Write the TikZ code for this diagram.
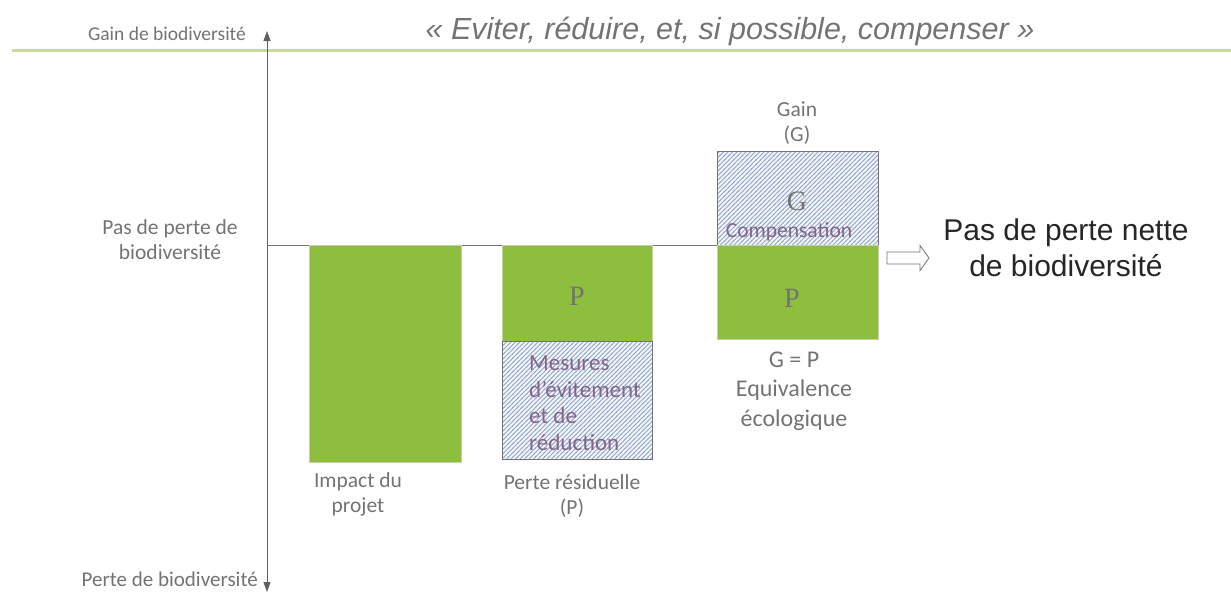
\documentclass[tikz,border=0pt]{standalone}
\usepackage{fontspec}
\setmainfont{Carlito}
\newfontfamily\arialfont{Liberation Sans}
\newfontfamily\timesfont{Liberation Serif}
\usepackage{tikz}
\usetikzlibrary{arrows.meta,patterns}

\definecolor{barGreen}{RGB}{141,190,61}
\definecolor{barEdge}{RGB}{200,205,170}
\definecolor{hatchBg}{RGB}{242,246,251}
\definecolor{hatchLine}{RGB}{150,168,198}
\definecolor{txtGray}{RGB}{115,115,115}
\definecolor{txtPurple}{RGB}{130,100,140}
\definecolor{axisGray}{RGB}{95,95,95}
\definecolor{topLine}{RGB}{200,218,160}

% diagonal hatch, a bit wider than north east lines
\pgfdeclarepatternformonly{hatchne}{\pgfpoint{-1pt}{-1pt}}{\pgfpoint{5.5pt}{5.5pt}}{\pgfpoint{4.5pt}{4.5pt}}
{\pgfsetlinewidth{0.9pt}\pgfpathmoveto{\pgfpoint{-0.5pt}{-0.5pt}}\pgfpathlineto{\pgfpoint{5pt}{5pt}}\pgfusepath{stroke}}

\begin{document}
\begin{tikzpicture}[x=1pt,y=-1pt,
  lab/.style={text=txtGray,align=center,inner sep=0pt,font=\fontsize{21.5}{25}\selectfont},
  greenbar/.style={fill=barGreen,draw=barEdge,line width=1pt},
  hatchbar/.style={preaction={fill=hatchBg},pattern=hatchne,pattern color=hatchLine,draw=txtGray,line width=0.8pt},
  letter/.style={text=txtGray,font=\timesfont\fontsize{28}{28}\selectfont,inner sep=0pt}]
 \useasboundingbox (0,0) rectangle (1231,592);

 % title and top line
 \draw[topLine, line width=3pt] (12,50) -- (1231,50);
 \node[text=txtGray,font=\arialfont\itshape\fontsize{30.5}{30}\selectfont] (title) at (730,31)
   {« Eviter, réduire, et, si possible, compenser »};

 % axis
 \coordinate (axtop) at (267,31);
 \coordinate (axbot) at (267,592);
 \coordinate (axzero) at (267,245);
 \draw[axisGray, line width=1pt, {Triangle[length=10pt,width=7pt]}-{Triangle[length=10pt,width=7pt]}]
   (axbot) -- (axtop);
 \node[lab,anchor=east,font=\fontsize{19.5}{19.5}\selectfont] (gain) at (246,34) {Gain de biodiversité};
 \node[lab,anchor=east,font=\fontsize{21}{21}\selectfont] (perte) at (258,579) {Perte de biodiversité};
 \node[lab] (zero) at (170,240) {Pas de perte de\\biodiversité};

 % baseline
 \coordinate (lineend) at (717,245);
 \draw[txtGray, line width=0.8pt] (axzero) -- (lineend);

 % bar 1
 \draw[greenbar] (309,245) rectangle (461,462);
 \node[lab] (impact) at (358,494) {Impact du\\projet};

 % bar 2
 \draw[greenbar] (502,245) rectangle (652,341);
 \draw[hatchbar] (502,341) rectangle (652,459);
 \node[letter] (p1) at (577,296) {P};
 \node[lab,text=txtPurple,align=left,anchor=north west,font=\fontsize{23}{26.5}\selectfont] (mesures) at (529,356)
   {Mesures\\d'évitement\\et de\\réduction};
 \node[lab] (residu) at (572,496) {Perte résiduelle\\(P)};

 % bar 3
 \draw[hatchbar] (717,151) rectangle (878,245);
 \draw[greenbar] (717,245) rectangle (878,339);
 \node[letter] (g) at (797,201) {G};
 \node[lab,text=txtPurple] (compens) at (789,232) {Compensation};
 \node[letter] (p2) at (792,298) {P};
 \node[lab] (gaing) at (797,123) {Gain\\(G)};
 \node[lab,font=\fontsize{24}{29.5}\selectfont] (equiv) at (794,391) {G = P\\Equivalence\\écologique};

 % result
 \node[text=black!85,align=center,font=\arialfont\fontsize{30}{36}\selectfont] (nette) at (1066,248)
   {Pas de perte nette\\de biodiversité};
 \coordinate (flow) at (887,246);
 \draw[txtGray, line width=0.8pt, line join=miter]
   ([yshift=-6]flow) -- ++(33,0) -- ++(0,-6.5) -- ++(9,12.5) -- ++(-9,12.5) -- ++(0,-6.5)
   -- ++(-33,0) -- cycle;
\end{tikzpicture}
\end{document}
